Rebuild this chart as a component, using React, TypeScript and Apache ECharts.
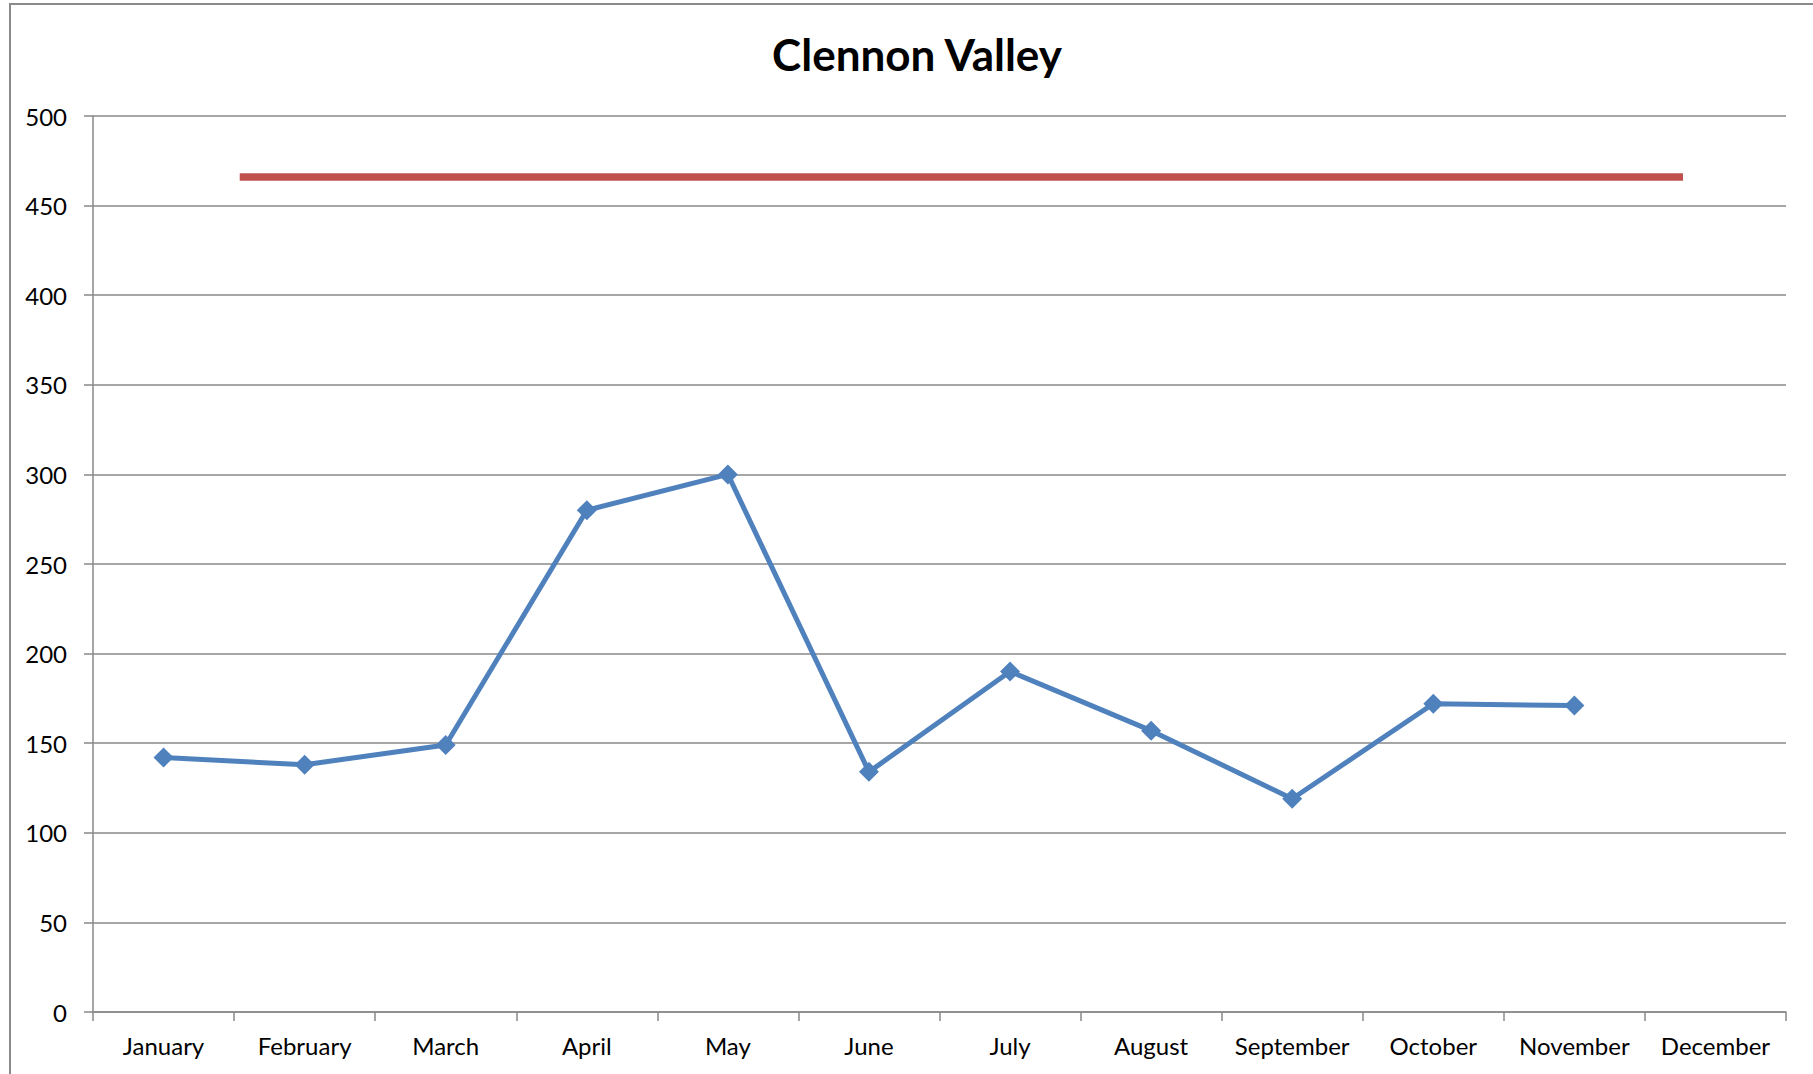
import React, { useEffect, useRef } from "react";
import * as echarts from "echarts";

const months = [
  "January", "February", "March", "April", "May", "June",
  "July", "August", "September", "October", "November", "December",
];
const valleyValues: (number | null)[] = [142, 138, 149, 280, 300, 134, 190, 157, 119, 172, 171, null];
const targetX = [1.04, 11.27];
const targetY = [466, 466];
const yTicks = { min: 0, max: 500, interval: 50 };

export default function App() {
  const ref = useRef<HTMLDivElement>(null);
  useEffect(() => {
    if (!ref.current) return;
    const chart = echarts.init(ref.current, undefined, { renderer: "svg" });
    const font = "Lato, 'Liberation Sans', sans-serif";
    const gridColor = "#898989";
    chart.setOption({
      animation: false,
      backgroundColor: "#ffffff",
      title: {
        text: "Clennon Valley",
        left: 912,
        top: 27,
        textAlign: "center",
        textStyle: { fontFamily: font, fontWeight: "bold", fontSize: 44, color: "#000" },
      },
      graphic: [
        {
          type: "rect",
          shape: { x: 10, y: 4, width: 1900, height: 1200 },
          style: { fill: "none", stroke: "#8a8a8a", lineWidth: 2 },
          silent: true,
        },
      ],
      grid: { left: 93, right: 27, top: 116, bottom: 62 },
      xAxis: [
        {
          type: "category",
          data: months,
          boundaryGap: true,
          axisLine: { show: true, lineStyle: { color: gridColor, width: 1.5 } },
          axisTick: { show: true, alignWithLabel: false, length: 9, lineStyle: { color: gridColor, width: 1.5 } },
          axisLabel: { fontFamily: font, fontSize: 24, color: "#000", margin: 21, interval: 0 },
          splitLine: { show: false },
        },
        {
          type: "value",
          min: 0,
          max: 12,
          show: false,
        },
      ],
      yAxis: {
        type: "value",
        min: yTicks.min,
        max: yTicks.max,
        interval: yTicks.interval,
        axisLine: { show: true, lineStyle: { color: gridColor, width: 1.5 } },
        axisTick: { show: true, inside: false, length: 9, lineStyle: { color: gridColor, width: 1.5 } },
        axisLabel: { fontFamily: font, fontSize: 24, color: "#000", margin: 26 },
        splitLine: { show: true, lineStyle: { color: gridColor, width: 1.5 } },
      },
      series: [
        {
          type: "line",
          name: "Target",
          xAxisIndex: 1,
          data: targetX.map((x, i) => [x, targetY[i]]),
          symbol: "none",
          lineStyle: { color: "#C0504D", width: 7.5, cap: "butt" },
          z: 3,
        },
        {
          type: "line",
          name: "Clennon Valley",
          xAxisIndex: 0,
          data: valleyValues,
          symbol: "diamond",
          symbolSize: 20,
          connectNulls: false,
          lineStyle: { color: "#4F81BD", width: 5 },
          itemStyle: { color: "#4F81BD" },
          z: 4,
        },
      ],
    });
    return () => chart.dispose();
  }, []);
  return (
    <div
      ref={ref}
      style={{ position: "fixed", left: 0, top: 0, width: 1813, height: 1074 }}
    />
  );
}
